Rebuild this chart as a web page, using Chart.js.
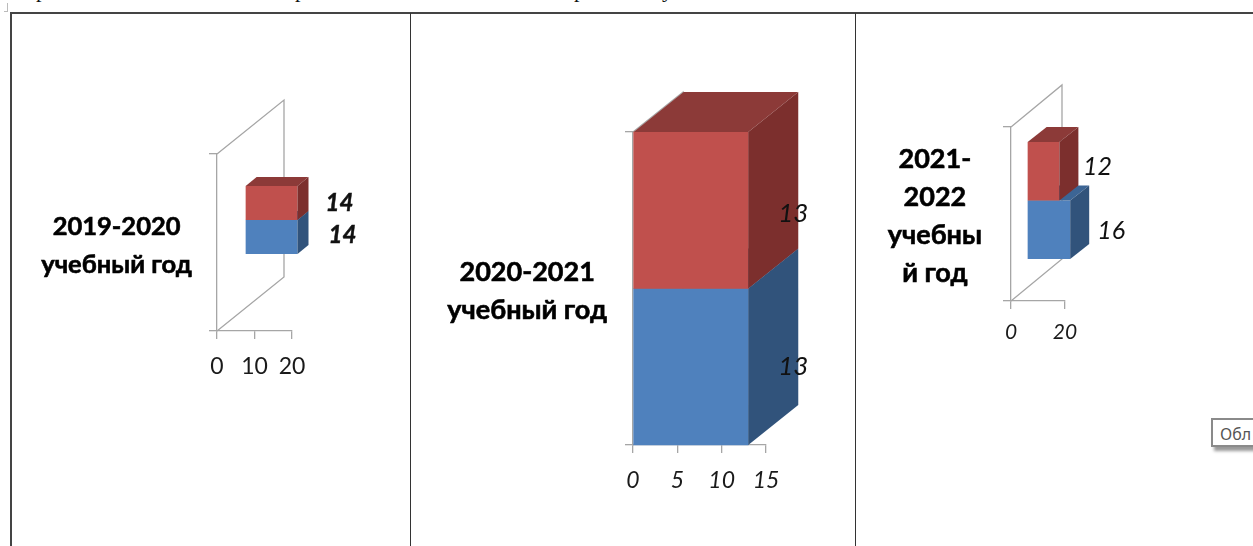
<!DOCTYPE html>
<html>
<head>
<meta charset="utf-8">
<script src="https://cdn.jsdelivr.net/npm/chart.js@4"></script>
<style>
  html, body { margin: 0; padding: 0; background: #fff; overflow: hidden; }
  canvas { position: absolute; top: 14px; }
  .line { position: absolute; background: #333; }
  .cut { position: absolute; top: -22px; font: 22px/24px "Liberation Serif", serif; color: #111; }
  .tip { position: absolute; left: 1211px; top: 418px; width: 60px; height: 29px; box-sizing: border-box;
         border: 2px solid #8a8a8a; background: #fff; box-shadow: 3px 4px 3px #999;
         font: 16px "Noto Sans", sans-serif; color: #555; padding: 3px 0 0 7px; }
</style>
</head>
<body>
<span class="cut" style="left:36px">р</span>
<span class="cut" style="left:295px">р</span>
<span class="cut" style="left:574px">р</span>
<span class="cut" style="left:662px">у</span>
<div class="line" style="left:7px;top:3px;width:1px;height:8px;background:#bbb"></div>
<div class="line" style="left:4px;top:11px;width:4px;height:1px;background:#bbb"></div>
<div class="line" style="left:10px;top:12px;width:1243px;height:2px;background:#444"></div>
<div class="line" style="left:10px;top:12px;width:2px;height:534px;background:#444"></div>
<div class="line" style="left:410px;top:13px;width:1px;height:533px"></div>
<div class="line" style="left:855px;top:13px;width:1px;height:533px"></div>
<div class="tip">Обл</div>
<canvas id="c1" style="left:12px" width="398" height="532"></canvas>
<canvas id="c2" style="left:411px" width="444" height="532"></canvas>
<canvas id="c3" style="left:856px" width="397" height="532"></canvas>
<script>
const categories1 = [['2019-2020', 'учебный год']];
const red1 = [14];
const blue1 = [14];
const ticksMax1 = 20;

const categories2 = [['2020-2021', 'учебный год']];
const red2 = [13];
const blue2 = [13];
const ticksMax2 = 15;

const categories3 = [['2021-', '2022', 'учебны', 'й год']];
const red3 = [12];
const blue3 = [16];
const ticksMax3 = 20;

const RED = { front: '#C0504D', side: '#7C2F2D', top: '#8C3A38' };
const BLUE = { front: '#4F81BD', side: '#31537B', top: '#3C6595' };
const AXIS = '#A6A6A6';
const FONT = 'Lato, Carlito, "Noto Sans", sans-serif';

// fake 3D: front face is the real bar shifted into the wall, sides drawn around it
const box3d = {
  id: 'box3d',
  beforeDatasetsDraw(chart, args, o) {
    const { left, top, bottom } = chart.chartArea;
    const ctx = chart.ctx;
    ctx.save();
    ctx.strokeStyle = AXIS;
    ctx.lineWidth = 1.3;
    ctx.beginPath();
    ctx.moveTo(left, top);
    ctx.lineTo(left + o.wall[0], top - o.wall[1]);
    ctx.lineTo(left + o.wall[0], bottom - o.wall[1]);
    ctx.lineTo(left, bottom);
    ctx.stroke();
    ctx.restore();
  },
  beforeDatasetDraw(chart, args, o) {
    chart.ctx.save();
    chart.ctx.translate((o.wall[0] - o.depth[0]) / 2, -(o.wall[1] - o.depth[1]) / 2);
  },
  afterDatasetDraw(chart, args, o) {
    const ctx = chart.ctx;
    const c = args.index === 0 ? RED : BLUE;
    const [dx, dy] = o.depth;
    chart.getDatasetMeta(args.index).data.forEach(bar => {
      const t = bar.y - bar.height / 2;
      const b = bar.y + bar.height / 2;
      ctx.fillStyle = c.top;
      ctx.beginPath();
      ctx.moveTo(bar.base, t);
      ctx.lineTo(bar.x, t);
      ctx.lineTo(bar.x + dx, t - dy);
      ctx.lineTo(bar.base + dx, t - dy);
      ctx.fill();
      ctx.fillStyle = c.side;
      ctx.beginPath();
      ctx.moveTo(bar.x, t);
      ctx.lineTo(bar.x + dx, t - dy);
      ctx.lineTo(bar.x + dx, b - dy);
      ctx.lineTo(bar.x, b);
      ctx.fill();
    });
    ctx.restore();
  },
  afterDatasetsDraw(chart, args, o) {
    const ctx = chart.ctx;
    const sx = (o.wall[0] - o.depth[0]) / 2;
    const sy = -(o.wall[1] - o.depth[1]) / 2;
    ctx.save();
    ctx.font = o.valueFont + ' ' + FONT;
    ctx.fillStyle = '#111';
    ctx.strokeStyle = '#111';
    ctx.lineWidth = o.valueStroke;
    ctx.textAlign = 'center';
    ctx.textBaseline = 'middle';
    chart.data.datasets.forEach((ds, i) => {
      const bar = chart.getDatasetMeta(i).data[0];
      const tx = bar.x + sx + o.labelShift[i][0];
      const ty = bar.y + sy + o.labelShift[i][1];
      ctx.fillText(ds.data[0], tx, ty);
      if (o.valueStroke) ctx.strokeText(ds.data[0], tx, ty);
    });
    ctx.restore();
  }
};

function drawChart(id, categories, red, blue, maxX, step, o) {
  const canvas = document.getElementById(id);
  const x0 = canvas.offsetLeft;
  const y0 = canvas.offsetTop;
  new Chart(canvas, {
    type: 'bar',
    plugins: [box3d],
    data: {
      labels: categories,
      datasets: [
        { label: 'red', data: red, backgroundColor: RED.front, clip: false },
        { label: 'blue', data: blue, backgroundColor: BLUE.front, clip: false }
      ]
    },
    options: {
      indexAxis: 'y',
      responsive: false,
      animation: false,
      barPercentage: 1,
      categoryPercentage: o.band,
      layout: { padding: { top: o.plot.top - y0, right: x0 + canvas.width - o.plot.right, bottom: 0, left: 0 } },
      plugins: { legend: { display: false }, tooltip: { enabled: false }, box3d: o },
      scales: {
        x: {
          min: 0,
          max: maxX,
          ticks: {
            stepSize: step,
            maxRotation: 0,
            padding: o.tickPad,
            color: '#1a1a1a',
            font: { family: FONT, size: o.tickSize, style: o.tickStyle }
          },
          border: { color: AXIS, width: 1.3 },
          grid: { drawOnChartArea: false, tickLength: 8, color: AXIS, lineWidth: 1.3 },
          afterFit(scale) { scale.height = y0 + canvas.height - o.plot.bottom; }
        },
        y: {
          ticks: {
            crossAlign: 'center',
            padding: o.catPad,
            labelOffset: o.catShift,
            color: '#000',
            textStrokeColor: '#000',
            textStrokeWidth: 0.6,
            font: { family: FONT, size: o.catSize, weight: 'bold', lineHeight: '38px' }
          },
          border: { color: AXIS, width: 1.3 },
          grid: { drawOnChartArea: false, offset: true, tickLength: 8, color: AXIS, lineWidth: 1.3 },
          afterFit(scale) { scale.width = o.plot.left - x0; }
        }
      }
    }
  });
}

drawChart('c1', categories1, red1, blue1, ticksMax1, 10, {
  plot: { left: 217, right: 292, top: 154, bottom: 331 },
  band: 0.384, wall: [67, 54], depth: [11, 9],
  valueFont: 'italic bold 24px', valueStroke: 0.5, labelShift: [[42, 0], [45, -2]],
  tickSize: 23, tickStyle: 'normal', tickPad: 14, catSize: 25.5, catPad: 17, catShift: 3
});
drawChart('c2', categories2, red2, blue2, ticksMax2, 5, {
  plot: { left: 633, right: 766, top: 132, bottom: 445 },
  band: 1, wall: [50, 40], depth: [50, 40],
  valueFont: 'italic 26px', valueStroke: 0, labelShift: [[45, 3], [45, 0]],
  tickSize: 23, tickStyle: 'italic', tickPad: 14, catSize: 27, catPad: 18, catShift: 3
});
drawChart('c3', categories3, red3, blue3, ticksMax3, 20, {
  plot: { left: 1011, right: 1065, top: 127, bottom: 301 },
  band: 0.672, wall: [51, 42], depth: [19, 15],
  valueFont: 'italic 25px', valueStroke: 0, labelShift: [[38, -4], [41, 1]],
  tickSize: 21, tickStyle: 'italic', tickPad: 11, catSize: 27, catPad: 21, catShift: 2
});
</script>
</body>
</html>
